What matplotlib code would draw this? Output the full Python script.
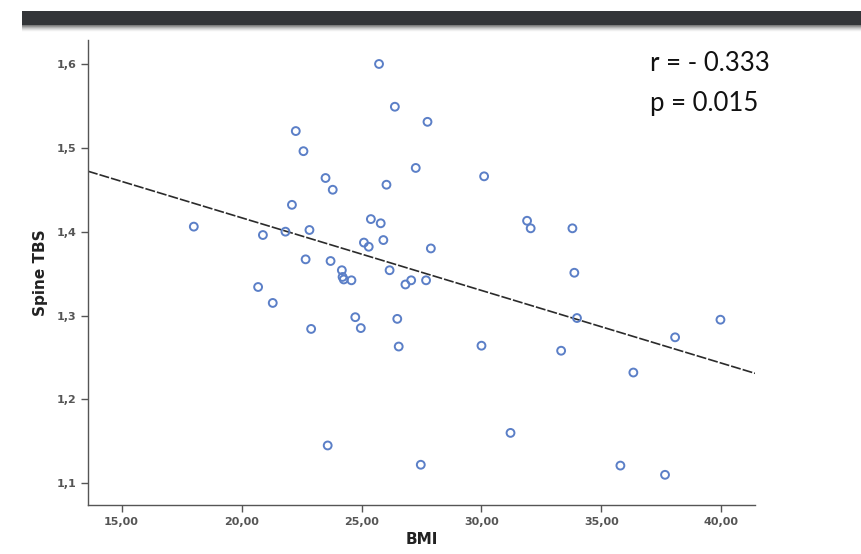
import numpy as np
import matplotlib.pyplot as plt
from matplotlib.ticker import FixedLocator, FixedFormatter

# BMI vs spine TBS
bmi = [25.73, 26.39, 27.75, 22.26, 22.58, 27.26, 30.11, 23.50, 23.80, 26.04,
       22.10, 18.01, 20.89, 21.83, 22.83, 25.39, 25.80, 25.10, 25.30, 25.91,
       27.89, 22.67, 23.71, 24.18, 24.21, 24.26, 24.58, 26.17, 26.83, 27.07,
       27.69, 20.69, 21.30, 24.74, 24.97, 26.49, 22.90, 26.55, 30.00, 23.59,
       27.47, 31.90, 32.05, 33.79, 33.87, 33.98, 39.96, 38.07, 33.32, 36.33,
       31.21, 35.79, 37.65]
tbs = [1.600, 1.549, 1.531, 1.520, 1.496, 1.476, 1.466, 1.464, 1.450, 1.456,
       1.432, 1.406, 1.396, 1.400, 1.402, 1.415, 1.410, 1.387, 1.382, 1.390,
       1.380, 1.367, 1.365, 1.354, 1.346, 1.343, 1.342, 1.354, 1.337, 1.342,
       1.342, 1.334, 1.315, 1.298, 1.285, 1.296, 1.284, 1.263, 1.264, 1.145,
       1.122, 1.413, 1.404, 1.404, 1.351, 1.297, 1.295, 1.274, 1.258, 1.232,
       1.160, 1.121, 1.110]

# fit line as drawn in the figure
fit_intercept = 1.590
fit_slope = -0.00867

xticks = [15, 20, 25, 30, 35, 40]
xtick_labels = ['15,00', '20,00', '25,00', '30,00', '35,00', '40,00']
yticks = [1.1, 1.2, 1.3, 1.4, 1.5, 1.6]
ytick_labels = ['1,1', '1,2', '1,3', '1,4', '1,5', '1,6']

fig = plt.figure(figsize=(8.61, 5.54), dpi=100)
fig.patch.set_facecolor('white')

# dark header bar across the top
bar = fig.add_axes([22/861, 1 - 25/554, 1 - 22/861, 14/554])
bar.set_facecolor('#333538')
bar.set_xticks([]); bar.set_yticks([])
for s in bar.spines.values():
    s.set_visible(False)
shadow = fig.add_axes([22/861, 1 - 32/554, 1 - 22/861, 7/554])
shadow.imshow(np.linspace(0, 1, 20).reshape(-1, 1), cmap='Greys_r',
              aspect='auto', vmin=-0.6, vmax=1.0)
shadow.axis('off')

ax = fig.add_axes([88/861, 49/554, (755 - 88)/861, (505 - 40)/554])
ax.set_facecolor('white')
ax.set_xlim(13.6, 41.4)
ax.set_ylim(1.074, 1.6286)

xs = np.array(ax.get_xlim())
ax.plot(xs, fit_intercept + fit_slope * xs, color='#2b2b2b', lw=1.2,
        linestyle=(0, (6, 1.2)), zorder=2)

ax.scatter(bmi, tbs, s=32, facecolors='none', edgecolors='#5b7fc7',
           linewidths=1.4, zorder=3)

for side in ['top', 'right']:
    ax.spines[side].set_visible(False)
for side in ['left', 'bottom']:
    ax.spines[side].set_color('#555555')
    ax.spines[side].set_linewidth(1.0)

ax.xaxis.set_major_locator(FixedLocator(xticks))
ax.xaxis.set_major_formatter(FixedFormatter(xtick_labels))
ax.yaxis.set_major_locator(FixedLocator(yticks))
ax.yaxis.set_major_formatter(FixedFormatter(ytick_labels))
ax.tick_params(axis='both', direction='out', length=5, width=1.0,
               color='#555555', labelsize=8, labelcolor='#555555')
for lab in ax.get_xticklabels() + ax.get_yticklabels():
    lab.set_fontweight('bold')

ax.set_xlabel('BMI', fontsize=11, fontweight='bold', color='#222222',
              labelpad=4)
ax.set_ylabel('Spine TBS', fontsize=11, fontweight='bold', color='#222222',
              labelpad=6)

fig.text(650/861, 1 - 63/554, 'r = - 0.333', fontsize=18.5, family='Lato',
         va='center', ha='left', color='#111111')
fig.text(650/861, 1 - 104/554, 'p = 0.015', fontsize=18.5, family='Lato',
         va='center', ha='left', color='#111111')

fig.savefig('out.png', dpi=100)
